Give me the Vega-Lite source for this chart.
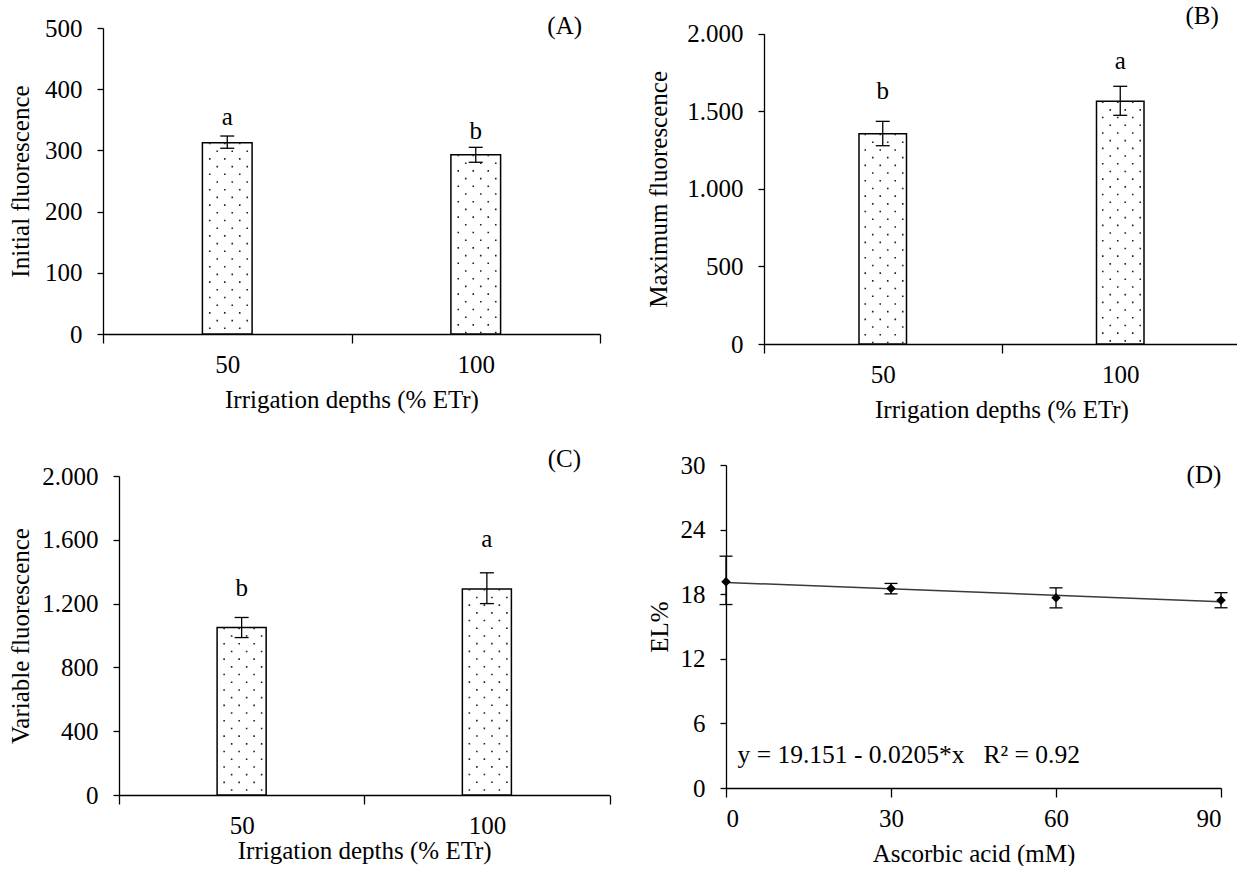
{
  "$schema": "https://vega.github.io/schema/vega-lite/v6.json",
  "background": "white",
  "padding": {"left": 8, "top": 4, "right": 0, "bottom": 0},
  "datasets": {
    "A": [
      {"depth": "50", "value": 312.6, "lo": 303.5, "hi": 323.5, "letter": "a", "ly": 354.6},
      {"depth": "100", "value": 293, "lo": 280.6, "hi": 305, "letter": "b", "ly": 331.7}
    ],
    "B": [
      {"depth": "50", "value": 1355, "lo": 1278, "hi": 1435, "letter": "b", "ly": 1631},
      {"depth": "100", "value": 1564, "lo": 1474, "hi": 1661, "letter": "a", "ly": 1824}
    ],
    "C": [
      {"depth": "50", "value": 1050, "lo": 987, "hi": 1113, "letter": "b", "ly": 1300},
      {"depth": "100", "value": 1292, "lo": 1200, "hi": 1393, "letter": "a", "ly": 1607}
    ],
    "D": [
      {"acid": 0, "EL": 19.15, "lo": 17.04, "hi": 21.53},
      {"acid": 30, "EL": 18.53, "lo": 18.03, "hi": 19.0},
      {"acid": 60, "EL": 17.66, "lo": 16.73, "hi": 18.59},
      {"acid": 90, "EL": 17.44, "lo": 16.74, "hi": 18.14}
    ]
  },
  "spacing": 35,
  "hconcat": [
    {
      "spacing": 34,
      "vconcat": [
        {
          "width": 497, "height": 306,
          "resolve": {"scale": {"x": "independent"}, "axis": {"x": "independent"}},
          "layer": [
            {
              "data": {"name": "A"},
              "layer": [
                {"mark": {"type": "bar", "fill": "white", "stroke": "black", "strokeWidth": 1.5, "width": {"band": 0.2}},
                 "encoding": {
                   "x": {"field": "depth", "type": "nominal", "title": "Irrigation depths (% ETr)", "scale": {"domain": ["50", "100"], "paddingInner": 0, "paddingOuter": 0}, "axis": {"tickBand": "extent"}},
                   "y": {"field": "value", "type": "quantitative", "title": "Initial fluorescence", "scale": {"domain": [0, 500]}, "axis": {"values": [0, 100, 200, 300, 400, 500], "titlePadding": 11.5}}}},
                {"mark": {"type": "rule", "stroke": "#222", "strokeWidth": 1.6, "strokeDash": [1.6, 13.8], "strokeDashOffset": 0, "xOffset": -17.5},
                 "encoding": {"x": {"field": "depth", "type": "nominal", "title": "Irrigation depths (% ETr)"}, "y": {"field": "value", "type": "quantitative", "title": "Initial fluorescence"}, "y2": {"datum": 0}}},
                {"mark": {"type": "rule", "stroke": "#222", "strokeWidth": 1.6, "strokeDash": [1.6, 13.8], "strokeDashOffset": 7.7, "xOffset": -10},
                 "encoding": {"x": {"field": "depth", "type": "nominal", "title": "Irrigation depths (% ETr)"}, "y": {"field": "value", "type": "quantitative", "title": "Initial fluorescence"}, "y2": {"datum": 0}}},
                {"mark": {"type": "rule", "stroke": "#222", "strokeWidth": 1.6, "strokeDash": [1.6, 13.8], "strokeDashOffset": 0, "xOffset": -2.5},
                 "encoding": {"x": {"field": "depth", "type": "nominal", "title": "Irrigation depths (% ETr)"}, "y": {"field": "value", "type": "quantitative", "title": "Initial fluorescence"}, "y2": {"datum": 0}}},
                {"mark": {"type": "rule", "stroke": "#222", "strokeWidth": 1.6, "strokeDash": [1.6, 13.8], "strokeDashOffset": 7.7, "xOffset": 5},
                 "encoding": {"x": {"field": "depth", "type": "nominal", "title": "Irrigation depths (% ETr)"}, "y": {"field": "value", "type": "quantitative", "title": "Initial fluorescence"}, "y2": {"datum": 0}}},
                {"mark": {"type": "rule", "stroke": "#222", "strokeWidth": 1.6, "strokeDash": [1.6, 13.8], "strokeDashOffset": 0, "xOffset": 12.5},
                 "encoding": {"x": {"field": "depth", "type": "nominal", "title": "Irrigation depths (% ETr)"}, "y": {"field": "value", "type": "quantitative", "title": "Initial fluorescence"}, "y2": {"datum": 0}}},
                {"mark": {"type": "rule", "stroke": "#222", "strokeWidth": 1.6, "strokeDash": [1.6, 13.8], "strokeDashOffset": 7.7, "xOffset": 20},
                 "encoding": {"x": {"field": "depth", "type": "nominal", "title": "Irrigation depths (% ETr)"}, "y": {"field": "value", "type": "quantitative", "title": "Initial fluorescence"}, "y2": {"datum": 0}}},
                {"mark": {"type": "rule", "stroke": "black", "strokeWidth": 1.3},
                 "encoding": {"x": {"field": "depth", "type": "nominal", "title": "Irrigation depths (% ETr)"}, "y": {"field": "lo", "type": "quantitative", "title": "Initial fluorescence"}, "y2": {"field": "hi"}}},
                {"mark": {"type": "tick", "color": "black", "orient": "horizontal", "size": 14, "thickness": 1.3, "opacity": 1},
                 "encoding": {"x": {"field": "depth", "type": "nominal", "title": "Irrigation depths (% ETr)"}, "y": {"field": "lo", "type": "quantitative", "title": "Initial fluorescence"}}},
                {"mark": {"type": "tick", "color": "black", "orient": "horizontal", "size": 14, "thickness": 1.3, "opacity": 1},
                 "encoding": {"x": {"field": "depth", "type": "nominal", "title": "Irrigation depths (% ETr)"}, "y": {"field": "hi", "type": "quantitative", "title": "Initial fluorescence"}}},
                {"mark": {"type": "text", "fontSize": 25, "baseline": "middle", "color": "black"},
                 "encoding": {"x": {"field": "depth", "type": "nominal", "title": "Irrigation depths (% ETr)"}, "y": {"field": "ly", "type": "quantitative", "title": "Initial fluorescence"}, "text": {"field": "letter"}}}
              ]
            },
            {
              "data": {"values": [{"px": 0.929, "value": 503.3, "lab": "(A)"}]},
              "mark": {"type": "text", "fontSize": 25, "baseline": "middle", "align": "center", "color": "black"},
              "encoding": {"x": {"field": "px", "type": "quantitative", "scale": {"domain": [0, 1]}, "axis": null},
                           "y": {"field": "value", "type": "quantitative", "title": "Initial fluorescence"}, "text": {"field": "lab"}}
            }
          ]
        },
        {
          "width": 506.5, "height": 319,
          "resolve": {"scale": {"x": "independent"}, "axis": {"x": "independent"}},
          "layer": [
            {
              "data": {"name": "C"},
              "layer": [
                {"mark": {"type": "bar", "fill": "white", "stroke": "black", "strokeWidth": 1.5, "width": {"band": 0.2}},
                 "encoding": {
                   "x": {"field": "depth", "type": "nominal", "title": "Irrigation depths (% ETr)", "scale": {"domain": ["50", "100"], "range": [16, 506.5], "paddingInner": 0, "paddingOuter": 0}, "axis": {"tickBand": "extent", "titlePadding": 0}},
                   "y": {"field": "value", "type": "quantitative", "title": "Variable fluorescence", "scale": {"domain": [0, 2000]}, "axis": {"values": [0, 400, 800, 1200, 1600, 2000], "offset": -16, "labelExpr": "replace(format(datum.value, ','), ',', '.')"}}}},
                {"mark": {"type": "rule", "stroke": "#222", "strokeWidth": 1.6, "strokeDash": [1.6, 13.8], "strokeDashOffset": 0, "xOffset": -17.5},
                 "encoding": {"x": {"field": "depth", "type": "nominal", "title": "Irrigation depths (% ETr)"}, "y": {"field": "value", "type": "quantitative", "title": "Variable fluorescence"}, "y2": {"datum": 0}}},
                {"mark": {"type": "rule", "stroke": "#222", "strokeWidth": 1.6, "strokeDash": [1.6, 13.8], "strokeDashOffset": 7.7, "xOffset": -10},
                 "encoding": {"x": {"field": "depth", "type": "nominal", "title": "Irrigation depths (% ETr)"}, "y": {"field": "value", "type": "quantitative", "title": "Variable fluorescence"}, "y2": {"datum": 0}}},
                {"mark": {"type": "rule", "stroke": "#222", "strokeWidth": 1.6, "strokeDash": [1.6, 13.8], "strokeDashOffset": 0, "xOffset": -2.5},
                 "encoding": {"x": {"field": "depth", "type": "nominal", "title": "Irrigation depths (% ETr)"}, "y": {"field": "value", "type": "quantitative", "title": "Variable fluorescence"}, "y2": {"datum": 0}}},
                {"mark": {"type": "rule", "stroke": "#222", "strokeWidth": 1.6, "strokeDash": [1.6, 13.8], "strokeDashOffset": 7.7, "xOffset": 5},
                 "encoding": {"x": {"field": "depth", "type": "nominal", "title": "Irrigation depths (% ETr)"}, "y": {"field": "value", "type": "quantitative", "title": "Variable fluorescence"}, "y2": {"datum": 0}}},
                {"mark": {"type": "rule", "stroke": "#222", "strokeWidth": 1.6, "strokeDash": [1.6, 13.8], "strokeDashOffset": 0, "xOffset": 12.5},
                 "encoding": {"x": {"field": "depth", "type": "nominal", "title": "Irrigation depths (% ETr)"}, "y": {"field": "value", "type": "quantitative", "title": "Variable fluorescence"}, "y2": {"datum": 0}}},
                {"mark": {"type": "rule", "stroke": "#222", "strokeWidth": 1.6, "strokeDash": [1.6, 13.8], "strokeDashOffset": 7.7, "xOffset": 20},
                 "encoding": {"x": {"field": "depth", "type": "nominal", "title": "Irrigation depths (% ETr)"}, "y": {"field": "value", "type": "quantitative", "title": "Variable fluorescence"}, "y2": {"datum": 0}}},
                {"mark": {"type": "rule", "stroke": "black", "strokeWidth": 1.3},
                 "encoding": {"x": {"field": "depth", "type": "nominal", "title": "Irrigation depths (% ETr)"}, "y": {"field": "lo", "type": "quantitative", "title": "Variable fluorescence"}, "y2": {"field": "hi"}}},
                {"mark": {"type": "tick", "color": "black", "orient": "horizontal", "size": 14, "thickness": 1.3, "opacity": 1},
                 "encoding": {"x": {"field": "depth", "type": "nominal", "title": "Irrigation depths (% ETr)"}, "y": {"field": "lo", "type": "quantitative", "title": "Variable fluorescence"}}},
                {"mark": {"type": "tick", "color": "black", "orient": "horizontal", "size": 14, "thickness": 1.3, "opacity": 1},
                 "encoding": {"x": {"field": "depth", "type": "nominal", "title": "Irrigation depths (% ETr)"}, "y": {"field": "hi", "type": "quantitative", "title": "Variable fluorescence"}}},
                {"mark": {"type": "text", "fontSize": 25, "baseline": "middle", "color": "black"},
                 "encoding": {"x": {"field": "depth", "type": "nominal", "title": "Irrigation depths (% ETr)"}, "y": {"field": "ly", "type": "quantitative", "title": "Variable fluorescence"}, "text": {"field": "letter"}}}
              ]
            },
            {
              "data": {"values": [{"px": 0.911, "value": 2108, "lab": "(C)"}]},
              "mark": {"type": "text", "fontSize": 25, "baseline": "middle", "align": "center", "color": "black"},
              "encoding": {"x": {"field": "px", "type": "quantitative", "scale": {"domain": [0, 1]}, "axis": null},
                           "y": {"field": "value", "type": "quantitative", "title": "Variable fluorescence"}, "text": {"field": "lab"}}
            }
          ]
        }
      ]
    },
    {
      "spacing": 31,
      "vconcat": [
        {
          "width": 513, "height": 316,
          "resolve": {"scale": {"x": "independent"}, "axis": {"x": "independent"}},
          "layer": [
            {
              "data": {"name": "B"},
              "layer": [
                {"mark": {"type": "bar", "fill": "white", "stroke": "black", "strokeWidth": 1.5, "width": {"band": 0.2}},
                 "encoding": {
                   "x": {"field": "depth", "type": "nominal", "title": "Irrigation depths (% ETr)", "scale": {"domain": ["50", "100"], "range": [38, 513], "paddingInner": 0, "paddingOuter": 0}, "axis": {"tickBand": "extent"}},
                   "y": {"field": "value", "type": "quantitative", "title": "Maximum fluorescence", "scale": {"domain": [0, 2000], "range": [316, 5.7]}, "axis": {"values": [0, 500, 1000, 1500, 2000], "offset": -38, "titlePadding": 15, "labelExpr": "replace(format(datum.value, ','), ',', '.')"}}}},
                {"mark": {"type": "rule", "stroke": "#222", "strokeWidth": 1.6, "strokeDash": [1.6, 13.8], "strokeDashOffset": 0, "xOffset": -17.5},
                 "encoding": {"x": {"field": "depth", "type": "nominal", "title": "Irrigation depths (% ETr)"}, "y": {"field": "value", "type": "quantitative", "title": "Maximum fluorescence"}, "y2": {"datum": 0}}},
                {"mark": {"type": "rule", "stroke": "#222", "strokeWidth": 1.6, "strokeDash": [1.6, 13.8], "strokeDashOffset": 7.7, "xOffset": -10},
                 "encoding": {"x": {"field": "depth", "type": "nominal", "title": "Irrigation depths (% ETr)"}, "y": {"field": "value", "type": "quantitative", "title": "Maximum fluorescence"}, "y2": {"datum": 0}}},
                {"mark": {"type": "rule", "stroke": "#222", "strokeWidth": 1.6, "strokeDash": [1.6, 13.8], "strokeDashOffset": 0, "xOffset": -2.5},
                 "encoding": {"x": {"field": "depth", "type": "nominal", "title": "Irrigation depths (% ETr)"}, "y": {"field": "value", "type": "quantitative", "title": "Maximum fluorescence"}, "y2": {"datum": 0}}},
                {"mark": {"type": "rule", "stroke": "#222", "strokeWidth": 1.6, "strokeDash": [1.6, 13.8], "strokeDashOffset": 7.7, "xOffset": 5},
                 "encoding": {"x": {"field": "depth", "type": "nominal", "title": "Irrigation depths (% ETr)"}, "y": {"field": "value", "type": "quantitative", "title": "Maximum fluorescence"}, "y2": {"datum": 0}}},
                {"mark": {"type": "rule", "stroke": "#222", "strokeWidth": 1.6, "strokeDash": [1.6, 13.8], "strokeDashOffset": 0, "xOffset": 12.5},
                 "encoding": {"x": {"field": "depth", "type": "nominal", "title": "Irrigation depths (% ETr)"}, "y": {"field": "value", "type": "quantitative", "title": "Maximum fluorescence"}, "y2": {"datum": 0}}},
                {"mark": {"type": "rule", "stroke": "#222", "strokeWidth": 1.6, "strokeDash": [1.6, 13.8], "strokeDashOffset": 7.7, "xOffset": 20},
                 "encoding": {"x": {"field": "depth", "type": "nominal", "title": "Irrigation depths (% ETr)"}, "y": {"field": "value", "type": "quantitative", "title": "Maximum fluorescence"}, "y2": {"datum": 0}}},
                {"mark": {"type": "rule", "stroke": "black", "strokeWidth": 1.3},
                 "encoding": {"x": {"field": "depth", "type": "nominal", "title": "Irrigation depths (% ETr)"}, "y": {"field": "lo", "type": "quantitative", "title": "Maximum fluorescence"}, "y2": {"field": "hi"}}},
                {"mark": {"type": "tick", "color": "black", "orient": "horizontal", "size": 14, "thickness": 1.3, "opacity": 1},
                 "encoding": {"x": {"field": "depth", "type": "nominal", "title": "Irrigation depths (% ETr)"}, "y": {"field": "lo", "type": "quantitative", "title": "Maximum fluorescence"}}},
                {"mark": {"type": "tick", "color": "black", "orient": "horizontal", "size": 14, "thickness": 1.3, "opacity": 1},
                 "encoding": {"x": {"field": "depth", "type": "nominal", "title": "Irrigation depths (% ETr)"}, "y": {"field": "hi", "type": "quantitative", "title": "Maximum fluorescence"}}},
                {"mark": {"type": "text", "fontSize": 25, "baseline": "middle", "color": "black"},
                 "encoding": {"x": {"field": "depth", "type": "nominal", "title": "Irrigation depths (% ETr)"}, "y": {"field": "ly", "type": "quantitative", "title": "Maximum fluorescence"}, "text": {"field": "letter"}}}
              ]
            },
            {
              "data": {"values": [{"px": 0.928, "value": 2114, "lab": "(B)"}]},
              "mark": {"type": "text", "fontSize": 25, "baseline": "middle", "align": "center", "color": "black"},
              "encoding": {"x": {"field": "px", "type": "quantitative", "scale": {"domain": [0, 1]}, "axis": null},
                           "y": {"field": "value", "type": "quantitative", "title": "Maximum fluorescence"}, "text": {"field": "lab"}}
            }
          ]
        },
        {
          "width": 495, "height": 323,
          "layer": [
            {"data": {"name": "D"},
             "transform": [{"regression": "EL", "on": "acid", "extent": [0, 90]}],
             "mark": {"type": "line", "color": "#3a3a3a", "strokeWidth": 1.5},
             "encoding": {
               "x": {"field": "acid", "type": "quantitative", "title": "Ascorbic acid (mM)", "scale": {"domain": [0, 90], "nice": false}, "axis": {"values": [0, 30, 60, 90]}},
               "y": {"field": "EL", "type": "quantitative", "title": "EL%", "scale": {"domain": [0, 30]}, "axis": {"values": [0, 6, 12, 18, 24, 30]}}}},
            {"data": {"name": "D"},
             "mark": {"type": "rule", "color": "black", "strokeWidth": 1.3},
             "encoding": {"x": {"field": "acid", "type": "quantitative", "title": "Ascorbic acid (mM)"}, "y": {"field": "lo", "type": "quantitative", "title": "EL%"}, "y2": {"field": "hi"}}},
            {"data": {"name": "D"},
             "mark": {"type": "tick", "color": "black", "orient": "horizontal", "size": 13, "thickness": 1.3, "opacity": 1},
             "encoding": {"x": {"field": "acid", "type": "quantitative", "title": "Ascorbic acid (mM)"}, "y": {"field": "lo", "type": "quantitative", "title": "EL%"}}},
            {"data": {"name": "D"},
             "mark": {"type": "tick", "color": "black", "orient": "horizontal", "size": 13, "thickness": 1.3, "opacity": 1},
             "encoding": {"x": {"field": "acid", "type": "quantitative", "title": "Ascorbic acid (mM)"}, "y": {"field": "hi", "type": "quantitative", "title": "EL%"}}},
            {"data": {"name": "D"},
             "mark": {"type": "point", "shape": "diamond", "filled": true, "color": "black", "size": 90, "opacity": 1},
             "encoding": {"x": {"field": "acid", "type": "quantitative", "title": "Ascorbic acid (mM)"}, "y": {"field": "EL", "type": "quantitative", "title": "EL%"}}},
            {"data": {"values": [{"acid": 2.1, "EL": 3.03, "t": "y = 19.151 - 0.0205*x\u00a0\u00a0\u00a0R² = 0.92"}]},
             "mark": {"type": "text", "align": "left", "baseline": "middle", "fontSize": 25.5, "color": "black"},
             "encoding": {"x": {"field": "acid", "type": "quantitative", "title": "Ascorbic acid (mM)"}, "y": {"field": "EL", "type": "quantitative", "title": "EL%"}, "text": {"field": "t"}}},
            {"data": {"values": [{"acid": 86.9, "EL": 29.07, "t": "(D)"}]},
             "mark": {"type": "text", "align": "center", "baseline": "middle", "fontSize": 25, "color": "black"},
             "encoding": {"x": {"field": "acid", "type": "quantitative", "title": "Ascorbic acid (mM)"}, "y": {"field": "EL", "type": "quantitative", "title": "EL%"}, "text": {"field": "t"}}}
          ]
        }
      ]
    }
  ],
  "config": {
    "font": "Liberation Serif",
    "view": {"stroke": null},
    "text": {"font": "Liberation Serif"},
    "axis": {
      "grid": false, "domainColor": "black", "tickColor": "black", "labelColor": "black", "titleColor": "black",
      "labelFont": "Liberation Serif", "titleFont": "Liberation Serif", "labelFontSize": 25, "titleFontSize": 25,
      "titleFontWeight": "normal", "domainWidth": 1.3, "tickWidth": 1.3
    },
    "axisX": {"tickSize": 9, "labelPadding": 9, "titlePadding": 10, "labelAngle": 0},
    "axisY": {"tickSize": 6, "labelPadding": 15, "titlePadding": 8}
  }
}
